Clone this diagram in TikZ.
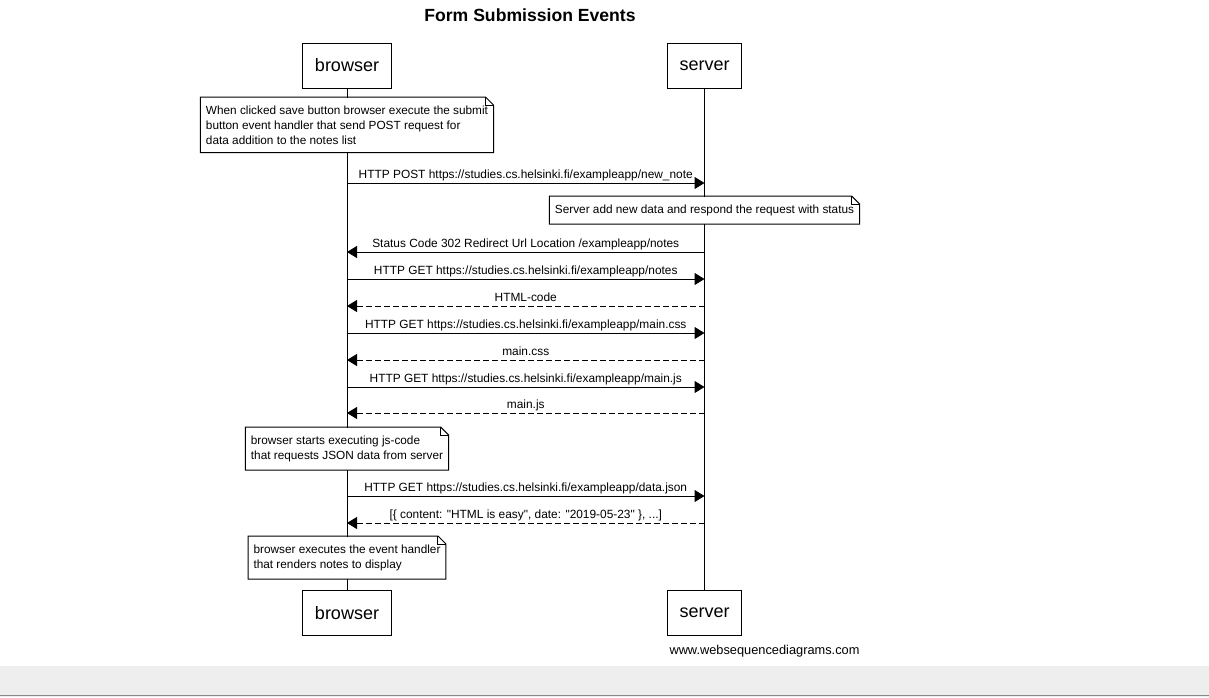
\documentclass[tikz,border=0pt]{standalone}
\usepackage{fontspec}
\setmainfont{Liberation Sans}
\newfontfamily\rawquotes{Liberation Sans}
\usepackage{xcolor}
\usetikzlibrary{arrows.meta,positioning}

\definecolor{bandgray}{HTML}{EEEEEE}
\definecolor{rulegray}{HTML}{8A8A8A}

% outline of a note with a folded corner
\newcommand{\dogear}[1]{%
  \draw (#1.south west) -- (#1.north west) -- ([xshift=-8pt]#1.north east)
    -- ([yshift=-8pt]#1.north east) -- (#1.south east) -- cycle;
  \draw ([xshift=-8pt]#1.north east) |- ([yshift=-8pt]#1.north east);
}

\begin{document}
\begin{tikzpicture}[
  x=1pt,
  y=1pt,
  line width=1pt,
  actor/.style={
    rectangle,
    draw,
    fill=white,
    minimum height=45pt,
    inner xsep=12pt,
    font=\fontsize{18}{22}\selectfont
  },
  notebox/.style={
    rectangle,
    fill=white,
    align=left,
    inner xsep=5pt,
    inner ysep=8pt,
    anchor=north,
    font=\fontsize{11.8}{15}\selectfont
  },
  msg/.style={
    -{Triangle[length=10pt,width=12pt]}
  },
  reply/.style={
    msg,
    dash pattern=on 6pt off 3pt
  },
  lbl/.style={
    above,
    inner sep=2pt,
    text height=8.5pt,
    text depth=2.5pt,
    font=\fontsize{11.9}{13}\selectfont
  }
]
\useasboundingbox (0,0) rectangle (1209,-697);
\fill[white] (0,0) rectangle (1209,-697);
\fill[bandgray] (0,-666) rectangle (1209,-697);
\draw[rulegray] (0,-695.5) -- (1209,-695.5);

\node[font=\bfseries\fontsize{17.6}{20}\selectfont] (title) at (530,-15)
{Form Submission Events};

\node[actor] (browserTop) at (347,-65.5) {browser};
\node[actor] (serverTop) at (704.5,-65.5) {server};
\node[actor] (browserBot) at (347,-613) {browser};
\node[actor] (serverBot) at (704.5,-613) {server};
\draw (browserTop) -- (browserBot);
\draw (serverTop) -- (serverBot);

\foreach \n/\y in {1/183,2/252,3/279,4/306,5/333,6/360,7/387,8/413,9/496,10/523} {
  \coordinate (b\n) at (browserTop |- 0,-\y);
  \coordinate (s\n) at (serverTop |- 0,-\y);
}

\node[notebox] (clickNote) at (browserTop |- 0,-97)
{When clicked save button browser execute the submit\\
button event handler that send POST request for\\
data addition to the notes list};
\dogear{clickNote}

\draw[msg] (b1) --
  node[lbl] {HTTP POST https://studies.cs.helsinki.fi/exampleapp/new\_note}
  (s1);

\node[notebox] (serverNote) at (serverTop |- 0,-196)
{Server add new data and respond the request with status};
\dogear{serverNote}

\draw[msg] (s2) --
  node[lbl] {Status Code 302 Redirect Url Location /exampleapp/notes}
  (b2);
\draw[msg] (b3) --
  node[lbl] {HTTP GET https://studies.cs.helsinki.fi/exampleapp/notes}
  (s3);
\draw[reply] (s4) -- node[lbl] {HTML-code} (b4);
\draw[msg] (b5) --
  node[lbl] {HTTP GET https://studies.cs.helsinki.fi/exampleapp/main.css}
  (s5);
\draw[reply] (s6) -- node[lbl] {main.css} (b6);
\draw[msg] (b7) --
  node[lbl] {HTTP GET https://studies.cs.helsinki.fi/exampleapp/main.js}
  (s7);
\draw[reply] (s8) -- node[lbl] {main.js} (b8);

\node[notebox] (jsNote) at (browserTop |- 0,-427)
{browser starts executing js-code\\
that requests JSON data from server};
\dogear{jsNote}

\draw[msg] (b9) --
  node[lbl] {HTTP GET https://studies.cs.helsinki.fi/exampleapp/data.json}
  (s9);
\draw[reply] (s10) --
  node[lbl] {\rawquotes [\{ content: "HTML is easy", date: "2019-05-23" \}, ...]}
  (b10);

\node[notebox] (renderNote) at (browserTop |- 0,-536)
{browser executes the event handler\\
that renders notes to display};
\dogear{renderNote}

\node[
  anchor=west,
  inner sep=0pt,
  font=\fontsize{12.8}{14}\selectfont
] (credit) at (669,-651)
{www.websequencediagrams.com};
\end{tikzpicture}
\end{document}
